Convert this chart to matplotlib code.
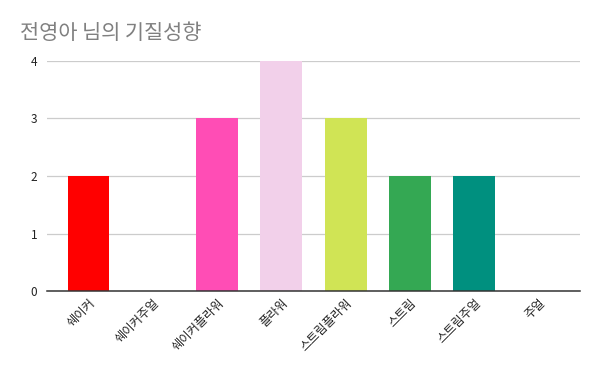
import matplotlib
matplotlib.use("Agg")
import matplotlib.pyplot as plt

# 데이터
categories = ['쉐이커', '쉐이커주얼', '쉐이커플라워', '플라워', '스트림플라워', '스트림', '스트림주얼', '주얼']
values = [2, 0, 3, 4, 3, 2, 2, 0]
bar_colors = ['#ff0000', '#ff0000', '#ff4db5', '#f2d0ea', '#d0e455', '#34a853', '#00907f', '#00907f']
y_ticks = [0, 1, 2, 3, 4]

plt.rcParams['font.family'] = ['Noto Sans CJK KR', 'DejaVu Sans']

fig = plt.figure(figsize=(6, 3.71), dpi=100)
ax = fig.add_axes([0.078, 0.2156, 0.889, 0.62])

x = range(len(categories))
ax.bar(x, values, width=0.65, color=bar_colors, zorder=3)

ax.set_xlim(-0.65, len(categories) - 0.35)
ax.set_ylim(0, 4)
ax.set_yticks(y_ticks)
ax.yaxis.grid(True, color='#cccccc', linewidth=0.9, zorder=0)
ax.set_axisbelow(True)

for side in ['top', 'right', 'left']:
    ax.spines[side].set_visible(False)
ax.spines['bottom'].set_color('#333333')
ax.spines['bottom'].set_linewidth(1.1)
ax.spines['bottom'].set_zorder(4)

ax.tick_params(axis='y', length=0, labelsize=8.5, pad=7, labelcolor='#222222')
ax.tick_params(axis='x', length=0, pad=4)
ax.set_xticks(list(x))
ax.set_xticklabels(categories, rotation=45, ha='right', rotation_mode='anchor',
                   fontsize=8.8, color='#222222')

fig.text(0.033, 0.912, '전영아 님의 기질성향', fontsize=15, color='#808080',
         fontweight='light', va='center')

fig.savefig('out.png', dpi=100)
